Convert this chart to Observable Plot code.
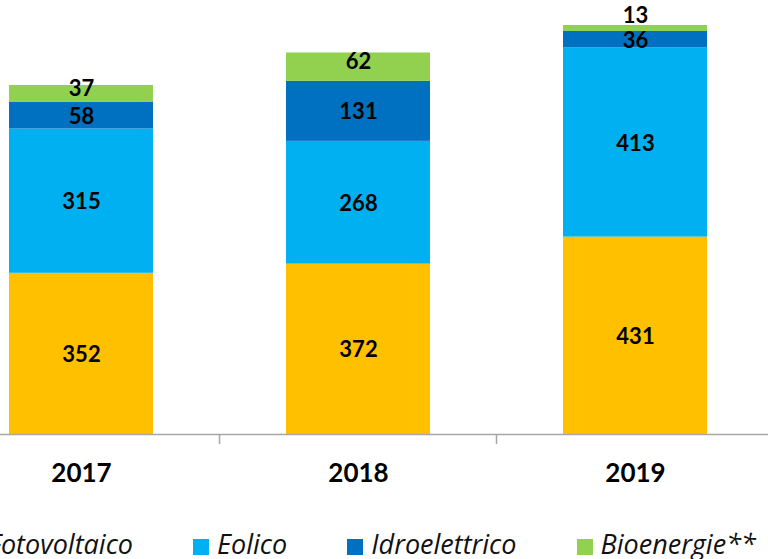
<!DOCTYPE html>
<html><head><meta charset="utf-8">
<script src="https://cdn.jsdelivr.net/npm/d3@7"></script>
<script src="https://cdn.jsdelivr.net/npm/@observablehq/plot@0.6"></script>
<style>
html,body{margin:0;padding:0;background:#fff;overflow:hidden;width:768px;height:559px}
#chart{position:relative;width:768px;height:559px;overflow:hidden}
#chart svg{display:block}
#legend{position:absolute;left:-36px;top:530px;display:flex;align-items:flex-start;gap:60px;font-family:"Open Sans",Lato,sans-serif;font-style:italic;font-size:27px;line-height:27px;color:#111;white-space:nowrap}
.item{display:flex;align-items:flex-start}
.sw{width:16px;height:16px;margin-top:9px;margin-right:8px;flex:none}
</style>
</head><body>
<div id="chart"></div>
<script>
const years = ["2017", "2018", "2019"];
const series = ["Fotovoltaico", "Eolico", "Idroelettrico", "Bioenergie**"];
const colors = ["#FFC000", "#00B0F0", "#0070C0", "#92D050"];
const fotovoltaico = [352, 372, 431];
const eolico = [315, 268, 413];
const idroelettrico = [58, 131, 36];
const bioenergie = [37, 62, 13];

const values = [fotovoltaico, eolico, idroelettrico, bioenergie];
const rows = [];
years.forEach((yr, i) => {
  let acc = 0;
  series.forEach((s, j) => {
    const v = values[j][i];
    rows.push({year: yr, series: s, value: v, y1: acc, y2: acc + v, top: j === series.length - 1});
    acc += v;
  });
});
const totals = years.map((yr, i) => d3.sum(values, v => v[i]));
const small = d => (d.y2 - d.y1) < 20;

const font = "Lato, 'Open Sans', sans-serif";
const labelStyle = {fontSize: 22, fontWeight: "bold", fontFamily: font, fill: "#000"};
const plot = Plot.plot({
  width: 768,
  height: 500,
  marginTop: 0, marginLeft: 0, marginRight: 0, marginBottom: 66,
  style: {background: "transparent", overflow: "visible"},
  x: {domain: years, range: [-57.5, 773.5], paddingInner: 0.48, paddingOuter: 0.24, label: null},
  y: {domain: [0, d3.max(totals)], range: [434, 25], axis: null},
  color: {domain: series, range: colors},
  marks: [
    Plot.barY(rows, {x: "year", y1: "y1", y2: "y2", fill: "series"}),
    Plot.ruleY([0], {stroke: "#a6a6a6", strokeWidth: 1.5}),
    Plot.axisX({tickSize: 0, tickPadding: 29, fontSize: 26, fontWeight: "bold", fontFamily: font, fill: "#000", label: null}),
    Plot.text(rows.filter(d => !small(d) && !d.top), {x: "year", y: d => (d.y1 + d.y2) / 2, dy: 1, text: d => String(d.value), ...labelStyle}),
    Plot.text(rows.filter(d => !small(d) && d.top), {x: "year", y: d => (d.y1 + d.y2) / 2, dy: -5, text: d => String(d.value), ...labelStyle}),
    Plot.text(rows.filter(small), {x: "year", y: "y2", dy: -10, text: d => String(d.value), ...labelStyle})
  ]
});
document.getElementById("chart").appendChild(plot);

// category separator ticks on the x axis
const xs = plot.scale("x"), ys = plot.scale("y");
const y0 = ys.apply(0);
const svg = d3.select(plot);
years.slice(0, -1).forEach(yr => {
  const xp = xs.apply(yr) + xs.bandwidth + (xs.step - xs.bandwidth) / 2;
  svg.append("line").attr("x1", xp).attr("x2", xp).attr("y1", y0).attr("y2", y0 + 10)
    .attr("stroke", "#a6a6a6").attr("stroke-width", 1.5);
});

// legend
const legend = document.createElement("div");
legend.id = "legend";
series.forEach((s, j) => {
  const it = document.createElement("div");
  it.className = "item";
  const sw = document.createElement("span");
  sw.className = "sw";
  sw.style.background = colors[j];
  const t = document.createElement("span");
  t.textContent = s;
  it.appendChild(sw); it.appendChild(t);
  legend.appendChild(it);
});
document.getElementById("chart").appendChild(legend);
</script>
</body></html>
